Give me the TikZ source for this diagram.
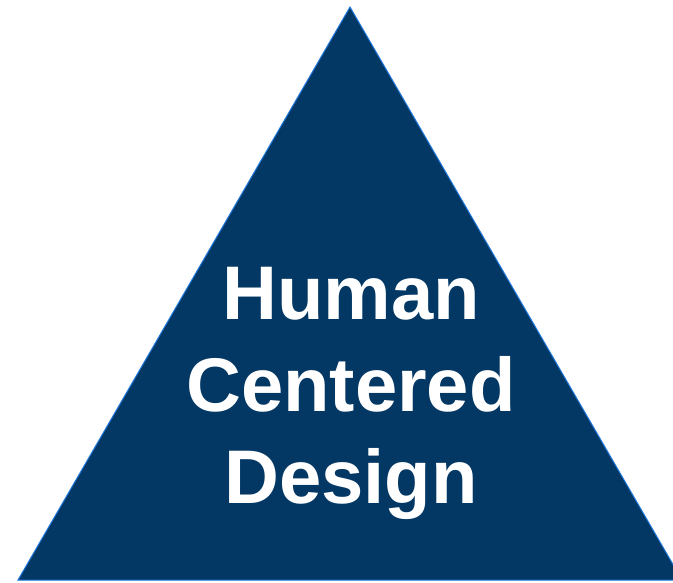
\documentclass[tikz,border=0pt]{standalone}
\usepackage{fontspec}
\setmainfont{Liberation Sans}
\usetikzlibrary{positioning}
\definecolor{hcdnavy}{RGB}{3,55,100}
\definecolor{hcdedge}{RGB}{30,120,220}
\tikzset{
        x=1pt, y=-1pt, % one unit is one pixel of the page, y runs down
        pyramid/.style={fill=hcdnavy, draw=hcdedge, line width=1pt}, % the big triangle
        title/.style={text=white, font=\bfseries\fontsize{76}{92}\selectfont, align=center}, % text inside it
        }

\begin{document}
\begin{tikzpicture}
        % page size of the reference
        \useasboundingbox (0,0) rectangle (673,583);
        \clip (0,0) rectangle (673,583);
        \coordinate (Top) at (350,7);
        \coordinate (Left) at (18,580);
        \coordinate (Right) at (682,580);
        \draw[pyramid] (Top) -- (Left) -- (Right) -- cycle;
        \node[title] (HCD) at (351,393) {Human\\Centered\\Design};
    \end{tikzpicture}
\end{document}
